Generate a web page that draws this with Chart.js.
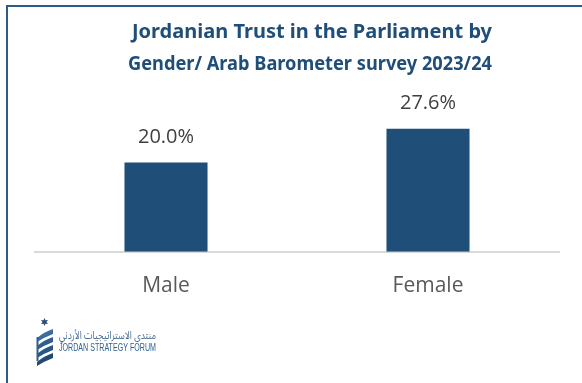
<!DOCTYPE html>
<html>
<head>
<meta charset="utf-8">
<script src="https://cdn.jsdelivr.net/npm/chart.js@4/dist/chart.umd.min.js"></script>
<style>
  html, body { margin: 0; padding: 0; background: #ffffff; }
  canvas { display: block; }
</style>
</head>
<body>
<canvas id="chart" width="582" height="383"></canvas>
<script>
// Survey data: share of respondents trusting the parliament, by gender
const categories = ['Male', 'Female'];
const trustValues = [20.0, 27.6];
const titleLines = [
  'Jordanian Trust in the Parliament by',
  'Gender/ Arab Barometer survey 2023/24'
];
const logoArabic = 'منتدى الاستراتيجيات الأردني';
const logoEnglish = 'JORDAN STRATEGY FORUM';

const NAVY = '#1f4e79';
const FRAME = '#2c5b8a';

// White page with a blue rule along the top and left edges
const framePlugin = {
  id: 'frame',
  beforeDraw(chart) {
    const { ctx, width, height } = chart;
    ctx.save();
    ctx.fillStyle = '#ffffff';
    ctx.fillRect(0, 0, width, height);
    ctx.fillStyle = FRAME;
    ctx.fillRect(6, 5, width - 6, 2);
    ctx.fillRect(6, 5, 2, height - 5);
    ctx.restore();
  }
};

// Two-line heading
const headingPlugin = {
  id: 'heading',
  afterDraw(chart) {
    const { ctx } = chart;
    ctx.save();
    ctx.fillStyle = NAVY;
    ctx.font = 'bold 20px "Noto Sans"';
    ctx.textAlign = 'center';
    ctx.textBaseline = 'alphabetic';
    ctx.fillText(titleLines[0], 312, 37.5, 362);
    ctx.fillText(titleLines[1], 310, 70, 364);
    ctx.restore();
  }
};

// Percentage labels above each bar
const valueLabelPlugin = {
  id: 'valueLabels',
  afterDatasetsDraw(chart) {
    const { ctx } = chart;
    const meta = chart.getDatasetMeta(0);
    ctx.save();
    ctx.fillStyle = '#404040';
    ctx.font = '20px "Open Sans"';
    ctx.textAlign = 'center';
    ctx.textBaseline = 'alphabetic';
    meta.data.forEach((bar, i) => {
      const v = chart.data.datasets[0].data[i];
      ctx.fillText(v.toFixed(1) + '%', bar.x, bar.y - 20);
    });
    ctx.restore();
  }
};

// Forum mark in the lower-left corner
const logoPlugin = {
  id: 'logo',
  afterDraw(chart) {
    const { ctx } = chart;
    ctx.save();
    // six-pointed star
    const sx = 44.5, sy = 322, ro = 4, ri = 2;
    ctx.fillStyle = '#2b4f7a';
    ctx.beginPath();
    for (let k = 0; k < 12; k++) {
      const a = -Math.PI / 2 + k * Math.PI / 6;
      const r = k % 2 === 0 ? ro : ri;
      const px = sx + r * Math.cos(a), py = sy + r * Math.sin(a);
      if (k === 0) ctx.moveTo(px, py); else ctx.lineTo(px, py);
    }
    ctx.closePath();
    ctx.fill();
    // ribbon bands
    const bands = ['#3a6c9c', '#2f5f8f', '#2a5686', '#224a77'];
    bands.forEach((c, k) => {
      const y0 = 329 + k * 8;
      ctx.fillStyle = c;
      ctx.beginPath();
      ctx.moveTo(53, y0);
      ctx.quadraticCurveTo(44, y0 + 3, 37, y0 + 9);
      ctx.lineTo(37, y0 + 13);
      ctx.quadraticCurveTo(45, y0 + 8, 53, y0 + 5);
      ctx.closePath();
      ctx.fill();
    });
    ctx.fillStyle = '#2f5f8f';
    ctx.fillRect(36.5, 337, 2, 24);
    // names
    ctx.fillStyle = '#4a6f96';
    ctx.font = '11px "Noto Sans Arabic", "DejaVu Sans"';
    ctx.textAlign = 'right';
    ctx.textBaseline = 'middle';
    ctx.direction = 'rtl';
    ctx.fillText(logoArabic, 156, 337, 97);
    ctx.direction = 'ltr';
    ctx.textAlign = 'left';
    ctx.fillStyle = '#2f5f8f';
    ctx.font = '10px "Liberation Sans"';
    ctx.fillText(logoEnglish, 59, 348.5, 97);
    ctx.restore();
  }
};

new Chart(document.getElementById('chart'), {
  type: 'bar',
  data: {
    labels: categories,
    datasets: [{
      data: trustValues,
      backgroundColor: NAVY,
      borderWidth: 0,
      categoryPercentage: 1,
      barPercentage: 0.317
    }]
  },
  options: {
    responsive: false,
    animation: false,
    devicePixelRatio: 1,
    layout: { padding: { top: 118, left: 35, right: 23, bottom: 62 } },
    plugins: {
      legend: { display: false },
      title: { display: false },
      tooltip: { enabled: false }
    },
    scales: {
      x: {
        grid: { display: false, drawTicks: false },
        border: { display: true, color: '#d9d9d9', width: 2 },
        ticks: {
          color: '#595959',
          font: { family: 'Open Sans', size: 21 },
          padding: 22
        }
      },
      y: {
        display: false,
        min: 0,
        max: 30
      }
    }
  },
  plugins: [framePlugin, headingPlugin, valueLabelPlugin, logoPlugin]
});
</script>
</body>
</html>
